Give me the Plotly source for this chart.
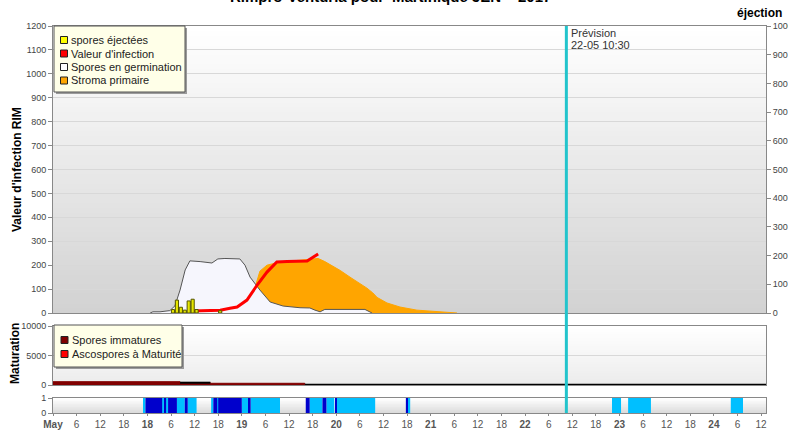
import pandas as pd
import plotly.graph_objects as go

# ---------------- DATA ----------------
BASE = pd.Timestamp("2017-05-17 00:00")
X_END = "2017-05-24 13:15"
FORECAST = "2017-05-22 10:30"

# hours since 17 May 00:00
germ_h = [24.7, 25.4, 27.2, 29.7, 31.0, 32.3, 33.6, 34.8, 37.4, 40.4, 41.9, 43.7, 47.5, 48.8,
          50.1, 52.6, 55.2, 58.5, 62.8, 65.3, 66.6, 67.9, 69.1, 79.3, 81.1]
germ_v = [0, 5, 5, 10, 30, 96, 180, 218, 215, 209, 226, 228, 226, 200,
          150, 96, 46, 29, 22, 21, 12, 5, 15, 15, 0]

infect_h = [35.3, 38.6, 42.5, 45.0, 46.8, 49.3, 51.9, 54.4, 56.9, 59.5, 62.8, 64.6, 65.8, 67.4]
infect_v = [8, 10, 12, 20, 25, 54, 117, 171, 213, 215, 215, 217, 230, 247]

stroma_h = [50.6, 51.6, 52.6, 54.4, 57.7, 61.5, 64.6, 67.4, 69.1, 71.2, 73.0, 75.5, 78.0,
            79.8, 81.3, 82.4, 84.9, 88.2, 92.5, 96.6, 99.6, 102.7]
stroma_v = [0, 120, 175, 200, 213, 218, 222, 228, 215, 195, 178, 150, 125,
            104, 84, 65, 42, 25, 12, 6, 3, 0]

eject_h = [30, 31, 32, 33, 34, 35, 36, 42]
eject_v = [12, 45, 20, 10, 42, 48, 12, 8]

immat_h = [0, 32.3, 40.0, 64.0, 181.3]
immat_v = [560, 390, 290, 0, 0]
outline_h = [32.3, 40.0, None, 64.0, 181.3]
outline_v = [390, 390, None, 60, 60]

strip_start = [23.0, 23.5, 27.75, 28.25, 28.75, 29.25, 31.5, 33.5, 34.25,
               40.2, 40.75, 41.75, 42.0, 48.0, 49.75, 50.25,
               64.25, 65.25, 68.5, 69.5, 71.75, 72.0,
               89.7, 90.25, 142.1, 146.2, 172.3]
strip_end = [23.5, 27.75, 28.25, 28.75, 29.25, 31.5, 33.5, 34.25, 36.5,
             40.75, 41.75, 42.0, 48.0, 49.75, 50.25, 57.7,
             65.25, 68.5, 69.5, 71.5, 72.0, 81.9,
             90.25, 90.8, 144.4, 152.0, 175.4]
strip_kind = ["light", "dark", "light", "dark", "light", "dark", "light", "dark", "light",
              "light", "dark", "light", "dark", "light", "dark", "light",
              "dark", "light", "dark", "light", "dark", "light",
              "dark", "light", "light", "light", "light"]

legend1_labels = ["spores éjectées", "Valeur d'infection", "Spores en germination", "Stroma primaire"]
legend1_colors = ["#ffff00", "#ff0000", "#ffffff", "#ffa500"]
legend2_labels = ["Spores immatures", "Ascospores à Maturité"]
legend2_colors = ["#800000", "#ff0000"]

# ---------------- HELPERS ----------------
def t(hours):
    return [None if h is None else BASE + pd.Timedelta(hours=h) for h in hours]

L, R, T, B = 53, 766, 26, 413
W, H = R - L, B - T

def px(x):
    return (x - L) / W

def py(y):
    return (B - y) / H

FONT = "Liberation Sans, Arial, sans-serif"
tickfont = dict(family=FONT, size=9, color="#444")

fig = go.Figure()

# top panel
fig.add_trace(go.Scatter(x=t(stroma_h), y=stroma_v, mode="lines", fill="tozeroy",
                         line=dict(color="#ffa500", width=1), fillcolor="#ffa500",
                         xaxis="x", yaxis="y", showlegend=False, name="Stroma primaire"))
fig.add_trace(go.Scatter(x=t(germ_h), y=germ_v, mode="lines", fill="tozeroy",
                         line=dict(color="#555555", width=1), fillcolor="#f6f6fd",
                         xaxis="x", yaxis="y", showlegend=False, name="Spores en germination"))
fig.add_trace(go.Scatter(x=t(infect_h), y=infect_v, mode="lines",
                         line=dict(color="#ff0000", width=3),
                         xaxis="x", yaxis="y", showlegend=False, name="Valeur d'infection"))
fig.add_trace(go.Bar(x=t([h + 0.5 for h in eject_h]), y=eject_v, width=0.8 * 3600000,
                     marker=dict(color="#e6e600", line=dict(color="#555500", width=1)),
                     xaxis="x", yaxis="y2", showlegend=False, name="spores éjectées"))

# middle panel
fig.add_trace(go.Scatter(x=t(immat_h), y=immat_v, mode="lines", fill="tozeroy",
                         line=dict(color="#800000", width=1, shape="hv"), fillcolor="#800000",
                         xaxis="x2", yaxis="y3", showlegend=False, name="Spores immatures"))
fig.add_trace(go.Scatter(x=t(outline_h), y=outline_v, mode="lines",
                         line=dict(color="#000000", width=2), connectgaps=False,
                         xaxis="x2", yaxis="y3", showlegend=False, name="total"))

# bottom strip
for kind, col in [("light", "#00bfff"), ("dark", "#0000cc")]:
    xs, ws = [], []
    for s, e, k in zip(strip_start, strip_end, strip_kind):
        if k == kind:
            xs.append(BASE + pd.Timedelta(hours=(s + e) / 2))
            ws.append((e - s) * 3600000)
    fig.add_trace(go.Bar(x=xs, y=[1] * len(xs), width=ws, marker=dict(color=col, line=dict(width=0)),
                         xaxis="x3", yaxis="y4", showlegend=False, name=kind))

# ---------------- SHAPES ----------------
shapes = []

def gradient(y_top_px, y_bot_px, c_top, c_bot, n=40):
    step = (y_bot_px - y_top_px) / n
    for i in range(n):
        f = i / (n - 1)
        c = tuple(int(round(a + (b - a) * f)) for a, b in zip(c_top, c_bot))
        y0 = y_top_px + step * i
        y1 = min(y_bot_px, y0 + step + 1.0)
        shapes.append(dict(type="rect", xref="paper", yref="paper", x0=0, x1=1,
                           y0=py(y1), y1=py(y0), layer="below", line=dict(width=0),
                           fillcolor="rgb(%d,%d,%d)" % c))

gradient(26, 313, (255, 255, 255), (210, 210, 210), 60)
gradient(326, 385, (255, 255, 255), (236, 236, 236), 20)
gradient(398, 413, (255, 255, 255), (220, 220, 220), 10)

# forecast line
shapes.append(dict(type="line", xref="x", yref="paper", x0=FORECAST, x1=FORECAST, y0=0, y1=1,
                   line=dict(color="#22c4cc", width=3), layer="above"))

annotations = []

def legend_box(x0, x1, y0, y1, rows, labels, colors, sq_x0, sq_x1, text_x):
    shapes.append(dict(type="rect", xref="paper", yref="paper", x0=px(x0 + 2), x1=px(x1 + 2),
                       y0=py(y1 + 2), y1=py(y0 + 2), line=dict(width=0), fillcolor="#9a9a9a"))
    shapes.append(dict(type="rect", xref="paper", yref="paper", x0=px(x0), x1=px(x1),
                       y0=py(y1), y1=py(y0), line=dict(color="#555", width=1), fillcolor="#ffffe8"))
    half = (sq_x1 - sq_x0) / 2
    for yc, lab, col in zip(rows, labels, colors):
        shapes.append(dict(type="rect", xref="paper", yref="paper", x0=px(sq_x0), x1=px(sq_x1),
                           y0=py(yc + half), y1=py(yc - half), line=dict(color="#222", width=1),
                           fillcolor=col))
        annotations.append(dict(xref="paper", yref="paper", x=px(text_x), y=py(yc), text=lab,
                                showarrow=False, xanchor="left", yanchor="middle",
                                font=dict(family=FONT, size=11, color="#222")))

legend_box(54, 185, 26, 92, [40, 53.5, 67, 80.5], legend1_labels, legend1_colors, 60.5, 67.5, 69)
legend_box(54, 182, 325, 367, [340, 354], legend2_labels, legend2_colors, 61, 68, 70)

# texts
annotations += [
    dict(xref="paper", yref="paper", x=px(390), y=py(7), yanchor="bottom", xanchor="center",
         text="<b>Rimpro-Venturia pour 'Martinique JEN' - 2017</b>", showarrow=False,
         font=dict(family=FONT, size=15, color="#000")),
    dict(xref="paper", yref="paper", x=px(784), y=py(13), xanchor="right", yanchor="middle",
         text="<b>éjection</b>", showarrow=False, font=dict(family=FONT, size=12, color="#000")),
    dict(xref="paper", yref="paper", x=px(17), y=py(170), xanchor="center", yanchor="middle",
         text="<b>Valeur d'infection RIM</b>", textangle=-90, showarrow=False,
         font=dict(family=FONT, size=12, color="#000")),
    dict(xref="paper", yref="paper", x=px(15), y=py(354), xanchor="center", yanchor="middle",
         text="<b>Maturation</b>", textangle=-90, showarrow=False,
         font=dict(family=FONT, size=12, color="#000")),
    dict(xref="paper", yref="paper", x=px(569), y=py(33), xanchor="left", yanchor="middle",
         text="Prévision", showarrow=False, font=dict(family=FONT, size=11, color="#333")),
    dict(xref="paper", yref="paper", x=px(569), y=py(45.5), xanchor="left", yanchor="middle",
         text="22-05 10:30", showarrow=False, font=dict(family=FONT, size=11, color="#333")),
]

# x ticks
tickvals, ticktext = [], []
for h in range(0, 181, 6):
    tickvals.append(BASE + pd.Timedelta(hours=h))
    if h == 0:
        ticktext.append("<b>May</b>")
    elif h % 24 == 0:
        ticktext.append("<b>%d</b>" % (17 + h // 24))
    else:
        ticktext.append(str(h % 24))

xcommon = dict(range=[BASE, X_END], showgrid=False, showline=True, linecolor="#888", mirror=True,
               zeroline=False, automargin=False)
ycommon = dict(showline=True, linecolor="#888", mirror=True, ticks="outside", ticklen=4,
               tickcolor="#888", tickfont=tickfont, zeroline=False, gridcolor="#d8d8d8",
               automargin=False)

fig.update_layout(
    width=788, height=430,
    margin=dict(l=L, r=788 - R, t=T, b=430 - B, pad=0, autoexpand=False),
    paper_bgcolor="white", plot_bgcolor="rgba(0,0,0,0)",
    barmode="overlay", showlegend=False,
    xaxis=dict(**xcommon, anchor="y", showticklabels=False, ticks=""),
    xaxis2=dict(**xcommon, anchor="y3", matches="x", showticklabels=False, ticks=""),
    xaxis3=dict(**xcommon, anchor="y4", matches="x", tickmode="array", tickvals=tickvals,
                ticktext=ticktext, ticks="outside", ticklen=2, tickcolor="#888",
                tickfont=dict(family=FONT, size=10, color="#555"), tickangle=0),
    yaxis=dict(**ycommon, domain=[py(313), 1], range=[0, 1200], dtick=100, showgrid=True),
    yaxis2=dict(overlaying="y", side="right", range=[0, 1000], dtick=100, showgrid=False,
                showline=True, linecolor="#888", ticks="outside", ticklen=4, tickcolor="#888",
                tickfont=tickfont, zeroline=False, automargin=False),
    yaxis3=dict(**ycommon, domain=[py(385), py(326)], range=[0, 10000], tickmode="array",
                tickvals=[0, 5000, 10000], ticktext=["0", "5000", "10000"], showgrid=True),
    yaxis4=dict(**ycommon, domain=[0, py(398)], range=[0, 1], tickvals=[0, 1], showgrid=False),
    shapes=shapes, annotations=annotations,
)

fig.write_html(
    "out.html",
    config={"displayModeBar": False},
    post_script="document.body.style.margin='0px';document.body.style.overflow='hidden';"
                "document.documentElement.style.overflow='hidden';",
)
